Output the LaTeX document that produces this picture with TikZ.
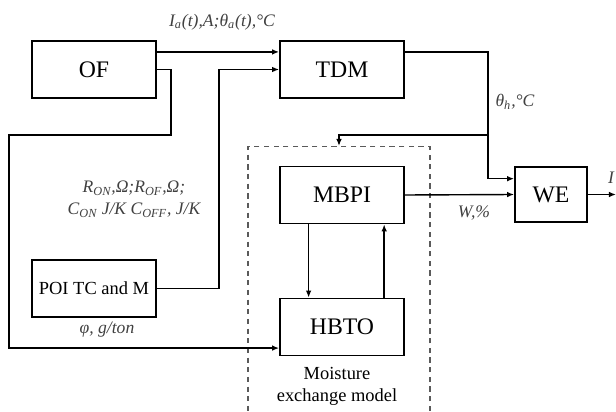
\documentclass[tikz,border=0pt]{standalone}
\usepackage{fontspec}
\setmainfont{Liberation Serif}
\usetikzlibrary{arrows.meta,positioning,calc}
\definecolor{labelgray}{RGB}{64,64,64}
\definecolor{dashgray}{RGB}{90,90,90}
\newcommand{\lsub}[1]{\textsubscript{#1}}

\begin{document}
\begin{tikzpicture}[
  x=0.02cm,y=-0.02cm,
  blockbox/.style={
    draw,
    line width=1pt,
    minimum width=2.48cm,
    minimum height=1.14cm,
    font=\fontsize{13.5}{15}\selectfont,
    fill=white
  },
  groupbox/.style={
    draw=dashgray,
    line width=0.8pt,
    dash pattern=on 3pt off 2.5pt,
    minimum width=3.64cm,
    minimum height=5.9cm,
    inner sep=0pt
  },
  conn/.style={line width=0.8pt,-{Latex[length=4pt,width=3.2pt]}},
  sig/.style={font=\fontsize{10}{12.5}\selectfont\itshape,text=labelgray,inner sep=1pt}
]
\useasboundingbox (0,0) rectangle (616,412);
\node[groupbox,anchor=north] (mem) at (339,146) {};
\node[blockbox] (of) at (94,69.5) {OF};
\node[blockbox] (tdm) at (342,69.5) {TDM};
\node[blockbox] (mbpi) at (342,195) {MBPI};
\node[blockbox] (hbto) at (342,327) {HBTO};
\node[blockbox,font=\fontsize{10.5}{12}\selectfont] (poi) at (94,288.5) {POI TC and M};
\node[blockbox,minimum width=1.44cm,minimum height=1.1cm] (we) at (551,194.5) {WE};
\coordinate (tap) at (488,135);
\coordinate (out) at (616,194.5);

\draw[conn] ([yshift=10pt]of.east) -- ([yshift=10pt]tdm.west);
\draw[conn] (poi.east) -- ++(62,0) |- (tdm.west);
\draw[conn] (of.east) -- ++(14,0) |- (9,135) |- ([yshift=-12pt]hbto.west);
\draw[conn] ([yshift=10pt]tdm.east) -| (tap) |- ([yshift=9pt]we.west);
\draw[conn] (tap) -| (mem.north);
\draw[conn] (mbpi.east) -- (we.west);
\draw[conn] ([xshift=-19pt]mbpi.south) -- ([xshift=-19pt]hbto.north);
\draw[conn] ([xshift=24pt]hbto.north) -- ([xshift=24pt]mbpi.south);
\draw[conn] (we.east) -- (out);

\node[sig] (iad) at (222,22) {I\lsub{a}(t),A;θ\lsub{a}(t),°C};
\node[sig] (thh) at (515,102) {θ\lsub{h},°C};
\node[sig,align=center] (rc) at (134,199) {R\lsub{ON},Ω;R\lsub{OF},Ω;\\C\lsub{ON} J/K C\lsub{OFF}, J/K};
\node[sig] (phi) at (107,330) {φ, g/ton};
\node[sig] (wp) at (474,213) {W,\%};
\node[sig,anchor=west] (iout) at (606,178) {I};
\node[align=center,font=\fontsize{10.5}{12.5}\selectfont] (mlabel) at (337,386) {Moisture\\exchange model};
\end{tikzpicture}
\end{document}
